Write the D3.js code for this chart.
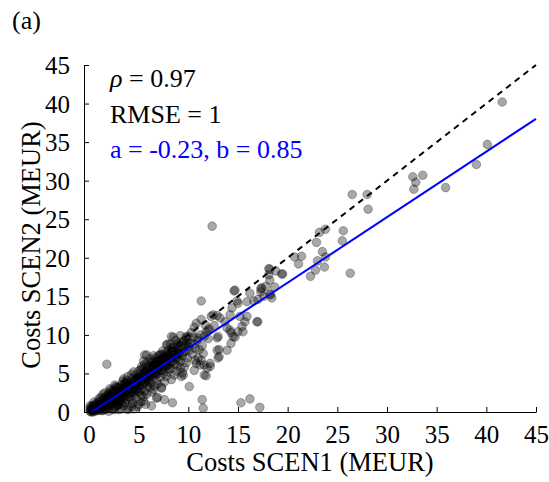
<!DOCTYPE html>
<html><head><meta charset="utf-8">
<script src="https://cdn.jsdelivr.net/npm/d3@7"></script>
<style>
html,body{margin:0;padding:0;background:#fff;}
svg{display:block;}
text{font-family:"Liberation Serif","Times New Roman",serif;fill:#000;}
</style></head><body>
<svg id="chart" width="549" height="482"></svg>
<script>
// [Costs SCEN1, Costs SCEN2] in MEUR
const denseCore = [
[0.1,0.1],[0.2,0.3],[0.3,0.1],[0.4,0.5],[0.5,0.2],[0.6,0.7],[0.7,0.4],[0.8,0.9],[0.9,0.3],[1.0,0.8],
[0.2,0.6],[0.5,0.9],[0.3,0.4],[0.7,1.1],[0.1,0.4],[0.9,0.6],[0.6,0.1],[0.4,0.2],[1.0,0.2],[0.8,0.5],
[1.1,1.2],[1.2,0.6],[1.3,1.5],[1.4,0.9],[1.5,1.8],[1.6,1.1],[1.7,0.5],[1.8,1.6],[1.9,2.2],[2.0,1.3],
[1.2,1.9],[1.4,2.3],[1.6,0.3],[1.8,0.9],[1.1,0.4],[1.5,1.3],[1.9,0.7],[1.3,0.2],[1.7,2.0],[2.0,2.5],
[2.1,1.7],[2.2,0.9],[2.3,2.4],[2.4,1.4],[2.5,2.9],[2.6,0.6],[2.7,2.1],[2.8,1.2],[2.9,3.1],[3.0,2.4],
[2.2,2.8],[2.4,0.4],[2.6,1.9],[2.8,2.7],[3.0,1.0],[2.3,1.2],[2.5,0.3],[2.7,3.3],[2.9,1.7],[2.1,3.0],
[2.4,2.0],[2.6,3.5],[2.8,0.8],
[3.1,3.0],[3.2,1.5],[3.3,3.6],[3.4,2.2],[3.5,0.8],[3.6,3.2],[3.7,2.6],[3.8,4.1],[3.9,1.9],[4.0,3.4],
[3.2,2.6],[3.4,4.0],[3.6,1.2],[3.8,2.9],[4.0,0.6],[3.3,0.4],[3.5,2.9],[3.7,3.8],[3.9,3.0],[3.1,2.0],
[3.5,4.3],[3.9,4.6],[3.3,1.1],[3.7,1.6],
[4.1,2.4],[4.2,3.9],[4.3,1.6],[4.4,4.4],[4.5,3.1],[4.6,2.2],[4.7,4.8],[4.8,3.6],[4.9,0.7],[5.0,4.2],
[4.2,2.9],[4.4,1.1],[4.6,3.7],[4.8,2.6],[5.0,5.3],[4.3,4.9],[4.5,0.4],[4.7,1.8],[4.9,3.0],[4.1,3.5],
[4.5,5.2],[4.9,4.5],[4.3,3.2],[4.7,2.9],
[5.1,3.3],[5.2,4.9],[5.3,2.1],[5.4,5.6],[5.5,3.9],[5.6,2.7],[5.7,4.6],[5.8,5.9],[5.9,3.4],[6.0,4.9],
[5.2,1.3],[5.4,4.1],[5.6,6.2],[5.8,2.3],[6.0,5.6],[5.3,3.0],[5.5,5.0],[5.7,1.0],[5.9,4.2],[5.1,4.4],
[5.5,6.6],[5.9,6.4],[5.3,5.9],[5.7,3.8],
[0.3,0.8],[0.6,0.4],[0.9,1.0],[1.2,1.0],[1.5,0.7],[1.8,1.3],[2.1,2.1],[2.3,1.8],[2.5,1.6],[2.7,1.5],
[2.9,2.3],[3.0,3.2],[3.2,2.3],[3.4,2.8],[3.6,2.5],[3.8,3.4],[4.0,2.7],[4.2,3.4],[4.4,3.0],[4.6,4.1],
[4.8,4.1],[5.0,3.5],[5.2,4.2],[5.4,3.5],[5.6,4.9],[5.8,4.5],[6.0,3.9],[6.2,5.1],[6.4,5.9],[6.6,4.9],
[6.8,5.5],[7.0,6.1],[7.2,5.4],[7.4,6.4],[7.6,6.9],[7.8,6.0],[8.0,7.4],[8.2,6.5],[8.4,7.9],[8.6,7.3],
[8.8,7.5],[9.0,6.8],[1.0,1.4],[1.6,1.6],[2.2,1.5],[2.6,2.6],[3.1,1.3],[3.5,1.9],[4.1,1.9],[4.5,2.6],
[5.1,2.6],[5.5,2.0],[6.1,3.2],[0.4,0.0],[1.4,0.2],[2.0,0.5],[0.1,0.8],[0.5,1.3],[1.0,1.7],[1.6,2.5],
[3.9,0.3],[4.3,0.7],[5.0,1.0],[5.5,1.4],[3.0,0.3],[2.0,0.1],
[0.2,0.0],[0.5,0.5],[0.8,0.2],[1.1,0.8],[1.3,1.1],[1.7,1.4],[1.9,1.8],[2.2,2.2],[2.4,2.6],[2.5,1.1],
[2.7,2.6],[2.9,0.9],[3.1,2.7],[3.3,2.0],[3.5,3.5],[3.7,2.2],[3.9,3.8],[4.1,3.0],[4.3,2.6],[4.5,3.8],
[4.7,3.4],[4.9,4.0],[5.1,3.8],[5.3,4.6],[5.5,4.4],[5.7,5.3],[5.9,5.0],[6.1,4.5],[6.3,5.6],[6.5,5.1],
[6.7,6.2],[6.9,5.7],[7.1,6.6],[7.3,6.2],[7.5,7.4],[7.7,6.8],[7.9,7.3],[8.1,6.2],[8.3,7.0],[8.5,8.4],
[8.7,8.0],[8.9,7.1],[9.1,7.6],[9.3,8.4],[9.5,7.7],[9.7,8.8],[9.9,9.0],[6.4,6.6],[7.0,6.7],[5.2,5.5],
[4.4,3.7],[3.6,3.7],[2.8,3.2],[6.0,4.4],[7.2,5.9],[8.0,5.6],[8.9,8.2],[10.1,8.0],[10.5,8.8],[11.0,9.6]
];
const midSpread = [
[6.1,5.2],[6.2,3.8],[6.3,6.4],[6.4,4.6],[6.5,2.9],[6.6,5.8],[6.7,7.0],[6.8,4.1],[6.9,6.1],[7.0,5.3],
[6.2,6.9],[6.4,5.5],[6.6,3.4],[6.8,6.6],[7.0,7.3],[6.3,4.9],[6.5,6.2],[6.7,4.8],[6.9,5.0],[6.1,6.0],
[6.5,7.3],[6.3,2.6],[6.9,3.6],
[7.1,6.0],[7.2,4.5],[7.3,7.5],[7.4,5.5],[7.5,6.8],[7.6,3.9],[7.7,6.4],[7.8,7.7],[7.9,5.2],[8.0,6.9],
[7.2,6.6],[7.4,7.9],[7.6,5.9],[7.8,4.6],[8.0,8.0],[7.3,3.2],[7.5,5.0],[7.7,7.2],[7.9,6.1],[7.1,7.4],
[8.1,7.2],[8.2,5.6],[8.3,8.3],[8.4,6.5],[8.5,7.8],[8.6,4.8],[8.7,7.0],[8.8,8.7],[8.9,6.0],[9.0,7.6],
[8.2,8.8],[8.4,7.4],[8.6,6.2],[8.8,5.3],[9.0,8.9],[8.3,4.2],[8.7,9.3],
[9.1,8.2],[9.2,6.6],[9.3,9.1],[9.4,7.3],[9.5,8.6],[9.6,5.8],[9.7,7.9],[9.8,9.6],[9.9,7.0],[10.0,8.5],
[9.2,9.9],[9.6,9.2],[9.8,6.4],[9.4,5.1],[10.0,9.8],[9.3,4.6],
[10.2,8.9],[10.4,7.5],[10.5,9.7],[10.7,8.2],[10.9,9.3],[11.0,7.0],[11.2,10.0],[11.4,8.6],[11.6,9.8],
[11.8,10.4],[10.3,10.3],[10.8,6.3],[11.1,8.1],[11.5,7.6],[12.0,9.5],[10.6,5.4],[11.3,6.7],[12.1,10.8],
[8.3,9.8],[9.8,9.8],[5.8,7.4],[8.5,9.7],[7.9,8.8],[7.8,8.7],[5.6,7.4],[9.2,5.7],[9.5,4.8],[10.7,6.7]
];
const outliers = [
[11.3,14.4],[14.6,15.7],[14.9,14.4],[18.1,18.6],[18.8,18.3],[19.5,17.9],[18.1,17.8],[18.2,17.1],
[17.3,16.0],[17.8,16.3],[18.2,15.3],[16.2,15.4],[16.6,14.4],[15.9,14.3],[15.0,14.1],[14.4,13.5],
[14.2,12.6],[12.9,12.5],[12.5,12.6],[13.2,12.2],[12.3,12.4],[11.3,12.0],[10.8,11.5],[10.6,11.0],
[11.7,11.3],[12.0,10.6],[12.6,11.2],[13.7,11.7],[13.9,10.9],[15.2,12.4],[15.7,11.7],[15.4,11.1],
[16.9,11.7],[14.2,10.6],[15.0,10.4],[14.5,9.8],[13.0,9.8],
[18.3,15.2],[18.7,16.2],[17.4,16.1],[17.3,15.6],[17.0,14.6],[14.7,15.8],[17.0,11.7],[15.9,12.4],
[15.5,10.4],[14.7,9.7],[14.3,8.9],[13.9,8.0],[13.1,7.2],[13.1,8.1],[14.3,10.3],[12.2,5.9],[11.6,6.1],
[11.2,6.1],[11.8,4.7],[10.1,3.3],[1.8,6.2],[6.9,1.9],[7.6,1.6],[8.4,1.2],[6.3,0.8],[11.4,1.6],
[11.5,0.5],[15.3,1.2],[16.2,1.7],[17.2,0.6],[12.4,24.1],[12.9,9.6],[12.9,8.0],[13.0,7.0],[12.2,6.3],
[11.9,5.7],[11.6,4.8],[7.3,3.1],[6.8,1.8],
[41.6,40.2],[40.1,34.7],[39.0,32.1],[35.9,29.1],[33.6,30.7],[32.9,29.8],[32.6,30.5],[32.7,28.9],
[26.5,28.2],[28.0,28.2],[28.1,26.3],[26.3,18.0],[25.6,23.5],[25.5,22.2],[23.8,23.7],[23.2,23.3],
[22.9,22.0],[23.5,20.8],[23.8,20.1],[23.0,19.6],[23.7,18.8],[22.8,18.4],[22.3,17.6],[20.7,20.1],
[21.4,20.2],[21.1,19.2],[18.2,18.5],[19.4,17.9],[17.6,15.0],[18.4,14.8]
];
const tickValues = [0,5,10,15,20,25,30,35,40,45];
const statsLines = ["= 0.97","RMSE = 1","a = -0.23, b = 0.85"];
const fitA = -0.23, fitB = 0.85;

const svg = d3.select("#chart");
const x = d3.scaleLinear().domain([-0.5,45]).range([84,536]);
const y = d3.scaleLinear().domain([0,45]).range([412,65]);

const allPts = denseCore.concat(midSpread, outliers);

// points
svg.append("g").selectAll("circle").data(allPts).join("circle")
  .attr("cx", d => x(d[0])).attr("cy", d => y(d[1])).attr("r", 4.3)
  .attr("fill", "#000").attr("fill-opacity", 0.34)
  .attr("stroke", "#000").attr("stroke-opacity", 0.28).attr("stroke-width", 1);

// 1:1 dashed line
svg.append("line")
  .attr("x1", x(0)).attr("y1", y(0)).attr("x2", x(45)).attr("y2", y(45))
  .attr("stroke", "#000").attr("stroke-width", 2).attr("stroke-dasharray", "6,5");

// fit line
const x0 = -fitA / fitB;
svg.append("line")
  .attr("x1", x(x0)).attr("y1", y(fitA + fitB*x0))
  .attr("x2", x(45)).attr("y2", y(fitA + fitB*45))
  .attr("stroke", "#0000ff").attr("stroke-width", 2);

// axes
const xAxis = d3.axisBottom(x).tickValues(tickValues).tickSizeInner(-5).tickSizeOuter(0).tickPadding(13);
const gx = svg.append("g").attr("transform", "translate(0,412)").call(xAxis);
const yAxis = d3.axisLeft(y).tickValues(tickValues).tickSizeInner(-5).tickSizeOuter(0).tickPadding(14);
const gy = svg.append("g").attr("transform", "translate(84,0)").call(yAxis);
[gx, gy].forEach(g => {
  g.selectAll("text").style("font-family", '"Liberation Serif", serif').style("font-size", "25px").attr("fill", "#000");
  g.selectAll("line,path").attr("stroke", "#000").attr("stroke-width", 1);
});
gy.selectAll("text").attr("dy", "0.34em");

// axis titles
svg.append("text").attr("x", 310).attr("y", 471).attr("text-anchor", "middle")
  .style("font-size", "26.5px").text("Costs SCEN1 (MEUR)");
svg.append("text").attr("transform", "translate(40,245) rotate(-90)").attr("text-anchor", "middle")
  .style("font-size", "26.5px").text("Costs SCEN2 (MEUR)");

// panel label
svg.append("text").attr("x", 12).attr("y", 29).style("font-size", "26px").text("(a)");

// stats
const t1 = svg.append("text").attr("x", 110).attr("y", 87).style("font-size", "26px");
t1.append("tspan").style("font-style", "italic").text("ρ");
t1.append("tspan").text(" " + statsLines[0]);
svg.append("text").attr("x", 110).attr("y", 123).style("font-size", "26px").text(statsLines[1]);
svg.append("text").attr("x", 110).attr("y", 158).style("font-size", "26px").style("fill", "#0000ff").text(statsLines[2]);
</script>
</body></html>
